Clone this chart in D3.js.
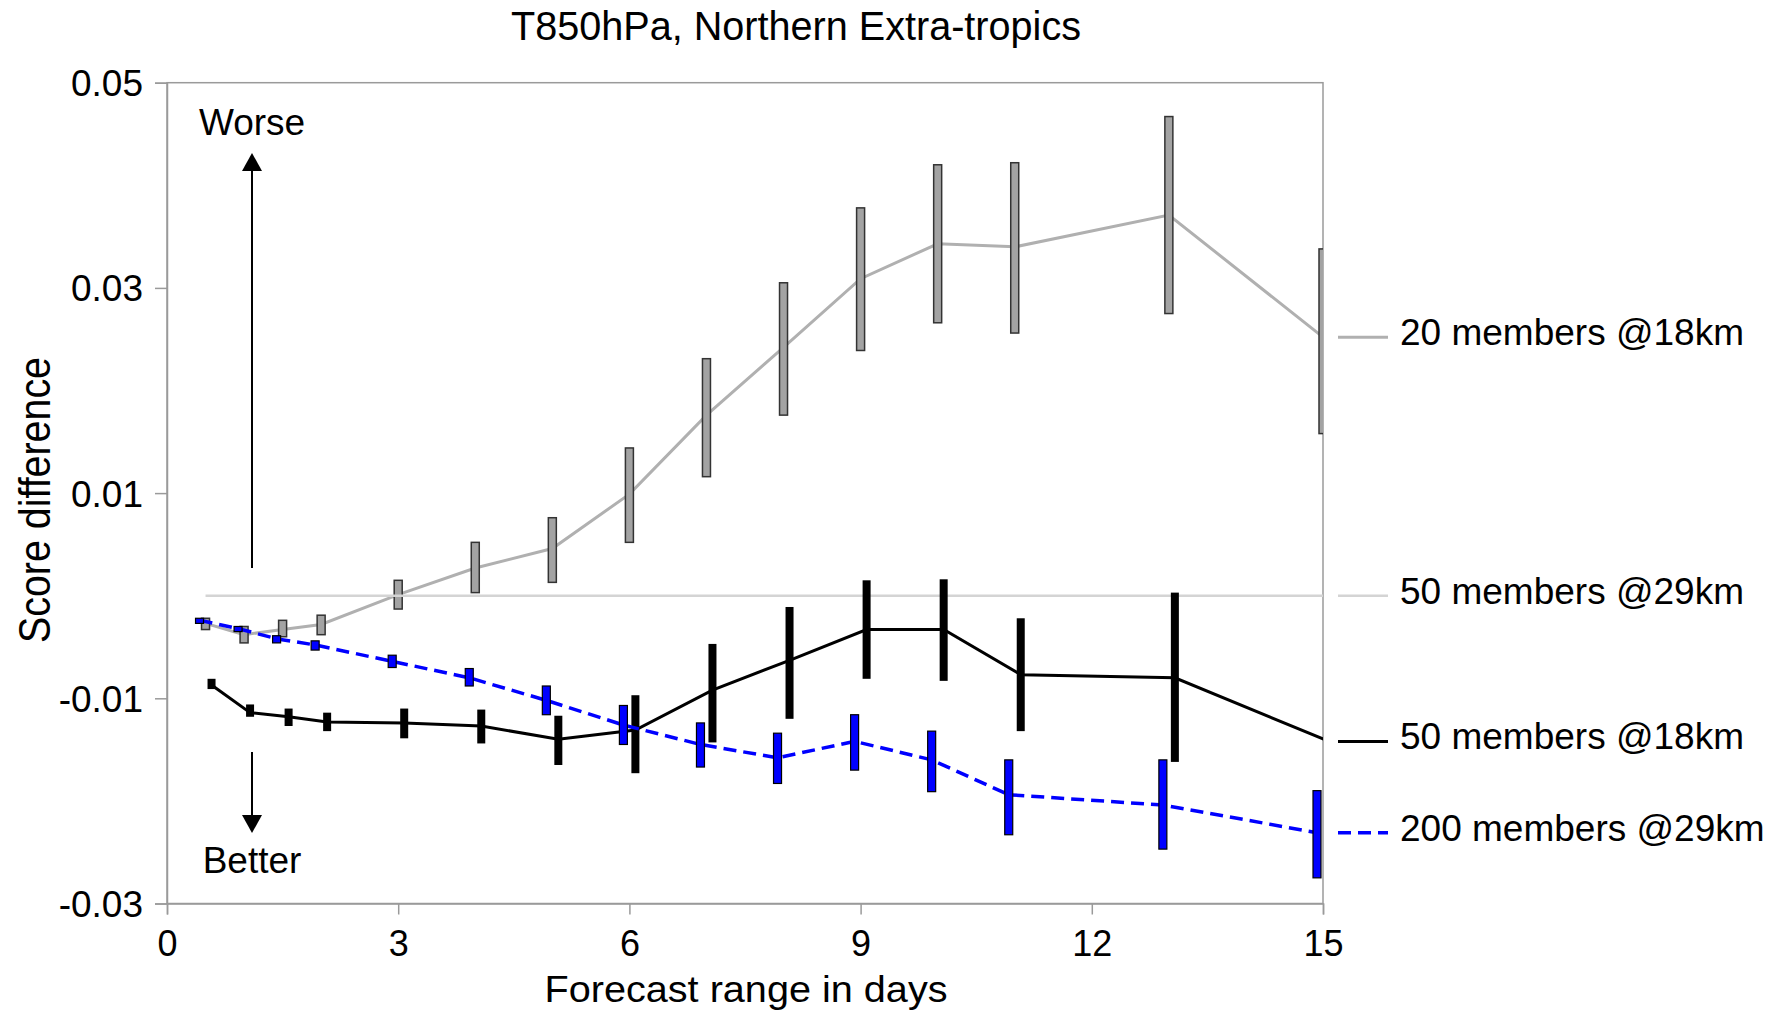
<!DOCTYPE html>
<html>
<head>
<meta charset="utf-8">
<script src="https://d3js.org/d3.v7.min.js"></script>
<style>
  body { margin:0; background:#fff; }
  svg { display:block; font-family:"Liberation Sans", Arial, Helvetica, sans-serif; }
</style>
</head>
<body>
<div id="chart_box"></div>
<script>
  // values
  var days = [0.5, 1, 1.5, 2, 3, 4, 5, 6, 7, 8, 9, 10, 11, 13, 15]
  var x_ticks = [0, 3, 6, 9, 12, 15]
  var y_ticks = [0.05, 0.03, 0.01, -0.01, -0.03]

  // 20 members @18km (grey)
  var m20_18_mean = [-0.0027, -0.0038, -0.0033, -0.0028, 0.0001, 0.0027, 0.0046, 0.0099, 0.0176, 0.0242, 0.0309, 0.0343, 0.0340, 0.0371, 0.0252]
  var m20_18_lo   = [-0.0033, -0.0046, -0.0040, -0.0038, -0.0013, 0.0003, 0.0013, 0.0052, 0.0116, 0.0176, 0.0239, 0.0266, 0.0256, 0.0275, 0.0158]
  var m20_18_hi   = [-0.0022, -0.0030, -0.0024, -0.0019, 0.0015, 0.0052, 0.0076, 0.0144, 0.0231, 0.0305, 0.0378, 0.0420, 0.0422, 0.0467, 0.0338]

  // 50 members @29km (reference, zero line)
  var m50_29_mean = [0, 0, 0, 0, 0, 0, 0, 0, 0, 0, 0, 0, 0, 0, 0]

  // 50 members @18km (black)
  var m50_18_mean = [-0.0087, -0.0114, -0.0118, -0.0123, -0.0124, -0.0127, -0.0140, -0.0131, -0.0092, -0.0063, -0.0033, -0.0033, -0.0077, -0.0080, -0.0142]
  var m50_18_lo   = [-0.0091, -0.0118, -0.0127, -0.0132, -0.0139, -0.0144, -0.0165, -0.0173, -0.0143, -0.0120, -0.0081, -0.0083, -0.0132, -0.0162, -0.0190]
  var m50_18_hi   = [-0.0081, -0.0106, -0.0110, -0.0114, -0.0110, -0.0111, -0.0117, -0.0097, -0.0047, -0.0011, 0.0015, 0.0016, -0.0022, 0.0003, -0.0094]

  // 200 members @29km (blue dashed)
  var m200_29_mean = [-0.0024, -0.0032, -0.0042, -0.0048, -0.0064, -0.0080, -0.0102, -0.0126, -0.0145, -0.0158, -0.0142, -0.0160, -0.0194, -0.0204, -0.0231]
  var m200_29_lo   = [-0.0027, -0.0035, -0.0046, -0.0053, -0.0070, -0.0088, -0.0116, -0.0145, -0.0167, -0.0183, -0.0170, -0.0191, -0.0233, -0.0247, -0.0275]
  var m200_29_hi   = [-0.0022, -0.0030, -0.0039, -0.0044, -0.0058, -0.0071, -0.0088, -0.0107, -0.0124, -0.0134, -0.0116, -0.0132, -0.0160, -0.0160, -0.0190]

  var series_names = ['20 members @18km', '50 members @29km', '50 members @18km', '200 members @29km']

  //globals (note: "top" is taken by window.top, so prefix these)
  var width = 1779
  var height = 1016
  var p_left = 167, p_right = 1323, p_top = 82.7, p_bottom = 903.5
  var xscale = d3.scaleLinear().domain([0, 15]).range([p_left, p_right])
  var yscale = d3.scaleLinear().domain([-0.03, 0.05]).range([p_bottom, p_top])
  var bar_w = 8

  function rows(mean, lo, hi){
    return days.map(function(d, i){
      return {x: d, y: mean[i], lo: lo ? lo[i] : null, hi: hi ? hi[i] : null}
    })
  }

  var series = [
    {name: series_names[0], data: rows(m20_18_mean, m20_18_lo, m20_18_hi), off: 0,
     line: '#b0b0b0', lw: 3, dash: null, bar_fill: '#a3a3a3', bar_stroke: '#333', bar_sw: 1.5},
    {name: series_names[1], data: rows(m50_29_mean), off: 0,
     line: '#d4d4d4', lw: 2.5, dash: null},
    {name: series_names[2], data: rows(m50_18_mean, m50_18_lo, m50_18_hi), off: 6,
     line: '#000', lw: 3, dash: null, bar_fill: '#000', bar_stroke: 'none', bar_sw: 0},
    {name: series_names[3], data: rows(m200_29_mean, m200_29_lo, m200_29_hi), off: -6,
     line: '#0000ff', lw: 3.5, dash: '13,7', bar_fill: '#0000ff', bar_stroke: '#000', bar_sw: 1.2}
  ]

  var svg = d3.select('#chart_box').append('svg')
    .attr('width', width)
    .attr('height', height)

  svg.append('defs').append('clipPath').attr('id', 'plot_clip')
    .append('rect')
    .attr('x', p_left).attr('y', p_top)
    .attr('width', p_right - p_left).attr('height', p_bottom - p_top)

  // frame
  svg.append('rect')
    .attr('x', p_left).attr('y', p_top)
    .attr('width', p_right - p_left).attr('height', p_bottom - p_top)
    .attr('fill', 'none').attr('stroke', '#9a9a9a').attr('stroke-width', 1.5)

  // axes
  var yaxis = svg.append('g')
    .attr('transform', 'translate(' + p_left + ',0)')
    .call(d3.axisLeft(yscale).tickValues(y_ticks).tickSize(12).tickPadding(12)
      .tickFormat(function(d){ return d.toFixed(2) }))
  var xaxis = svg.append('g')
    .attr('transform', 'translate(0,' + p_bottom + ')')
    .call(d3.axisBottom(xscale).tickValues(x_ticks).tickSize(11).tickPadding(12)
      .tickFormat(function(d){ return d }))
  svg.selectAll('.domain').attr('stroke', '#9a9a9a').attr('stroke-width', 1.5)
  svg.selectAll('.tick line').attr('stroke', '#9a9a9a').attr('stroke-width', 1.5)
  yaxis.selectAll('text').attr('font-size', 37).attr('fill', '#000')
    .attr('dy', null).attr('y', 13)
  xaxis.selectAll('text').attr('font-size', 36).attr('fill', '#000')
    .attr('dy', null).attr('y', 52.5)

  // lines and error bars
  var plot = svg.append('g').attr('clip-path', 'url(#plot_clip)')
  series.forEach(function(s){
    var line = d3.line()
      .x(function(d){ return xscale(d.x) + s.off })
      .y(function(d){ return yscale(d.y) })
    plot.append('path')
      .datum(s.data)
      .attr('d', line)
      .attr('fill', 'none')
      .attr('stroke', s.line)
      .attr('stroke-width', s.lw)
      .attr('stroke-dasharray', s.dash)
    if (s.bar_fill){
      plot.append('g').selectAll('rect')
        .data(s.data)
        .enter()
        .append('rect')
        .attr('x', function(d){ return xscale(d.x) + s.off - bar_w / 2 })
        .attr('y', function(d){ return yscale(d.hi) })
        .attr('width', bar_w)
        .attr('height', function(d){ return yscale(d.lo) - yscale(d.hi) })
        .attr('fill', s.bar_fill)
        .attr('stroke', s.bar_stroke)
        .attr('stroke-width', s.bar_sw)
    }
  })

  // legend at the end of each series
  var legend = svg.append('g')
  series.forEach(function(s){
    var ly = yscale(s.data[s.data.length - 1].y)
    legend.append('line')
      .attr('x1', 1338).attr('x2', 1388)
      .attr('y1', ly).attr('y2', ly)
      .attr('stroke', s.line)
      .attr('stroke-width', s.lw)
      .attr('stroke-dasharray', s.dash)
    legend.append('text')
      .attr('x', 1400).attr('y', ly + 8)
      .attr('font-size', 37)
      .text(s.name)
  })

  // worse / better arrows
  var ax = 252
  var marks = svg.append('g')
  marks.append('line').attr('x1', ax).attr('x2', ax).attr('y1', 568).attr('y2', 168)
    .attr('stroke', '#000').attr('stroke-width', 2)
  marks.append('path').attr('d', 'M' + ax + ',153 L' + (ax - 10) + ',171 L' + (ax + 10) + ',171 Z')
    .attr('fill', '#000')
  marks.append('line').attr('x1', ax).attr('x2', ax).attr('y1', 752).attr('y2', 818)
    .attr('stroke', '#000').attr('stroke-width', 2)
  marks.append('path').attr('d', 'M' + ax + ',833 L' + (ax - 10) + ',815 L' + (ax + 10) + ',815 Z')
    .attr('fill', '#000')
  marks.append('text').attr('x', ax).attr('y', 135).attr('text-anchor', 'middle')
    .attr('font-size', 37).text('Worse')
  marks.append('text').attr('x', ax).attr('y', 872.7).attr('text-anchor', 'middle')
    .attr('font-size', 37).text('Better')

  // titles
  svg.append('text')
    .attr('x', 796).attr('y', 40)
    .attr('text-anchor', 'middle')
    .attr('font-size', 40)
    .attr('textLength', 570).attr('lengthAdjust', 'spacingAndGlyphs')
    .text('T850hPa, Northern Extra-tropics')
  svg.append('text')
    .attr('x', 746).attr('y', 1001.5)
    .attr('text-anchor', 'middle')
    .attr('font-size', 36)
    .attr('textLength', 403).attr('lengthAdjust', 'spacingAndGlyphs')
    .text('Forecast range in days')
  svg.append('text')
    .attr('transform', 'translate(50,500) rotate(-90)')
    .attr('text-anchor', 'middle')
    .attr('font-size', 44)
    .attr('textLength', 286).attr('lengthAdjust', 'spacingAndGlyphs')
    .text('Score difference')
</script>
</body>
</html>
